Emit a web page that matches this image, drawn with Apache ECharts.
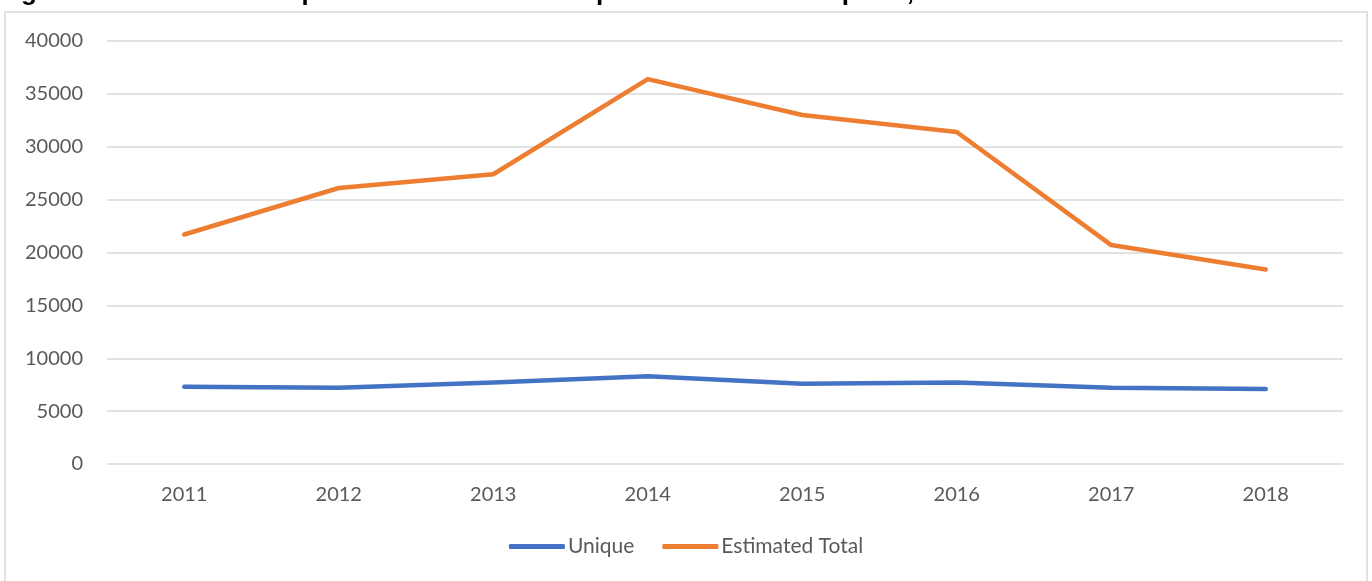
<!doctype html>
<html>
  <head>
    <meta charset="utf-8">
    <title>Occupational Disease Reports</title>
    <script src="https://cdn.jsdelivr.net/npm/echarts@6/dist/echarts.min.js"></script>
    <style>
      html, body { margin:0; padding:0; background:#fff; }
      #main { width:1372px; height:581px; }
    </style>
  </head>
  <body>
    <div id="main"></div>
  </body>
  <script>
   var years = ['2011','2012','2013','2014','2015','2016','2017','2018'];
   var unique = [7300, 7200, 7700, 8300, 7600, 7700, 7200, 7100];
   var estimatedTotal = [21700, 26100, 27400, 36400, 33000, 31400, 20700, 18400];

   var chart = echarts.init(document.getElementById('main'));
   var font = 'Lato, "Open Sans", sans-serif';

   var option = {
     animation:false,
     backgroundColor:'#fff',
     graphic:[
       {
         type:'rect',
         shape:{x:5, y:12, width:1362, height:580},
         style:{fill:'#fff', stroke:'#d9d9d9', lineWidth:1.5},
         z:-10
       },
       {
         type:'text',
         x:-2, y:-20,
         style:{
           text:'Figure B-6: Trend in Unique and Estimated Occupational Disease Reports, 2011-2018',
           font:'bold 26px "Liberation Sans", Arial, sans-serif',
           fill:'#000'
         },
         z:10
       }
     ],
     legend:{
       data:['Unique','Estimated Total'],
       bottom:19,
       left:'center',
       icon:'roundRect',
       itemWidth:56,
       itemHeight:5,
       itemGap:28,
       textStyle:{color:'#595959', fontSize:21, fontFamily:font, padding:[0,0,0,-2]}
     },
     grid:{left:107, right:29, top:41, bottom:117},
     xAxis:{
       type:'category',
       data:years,
       boundaryGap:true,
       axisLine:{show:false},
       axisTick:{show:false},
       axisLabel:{color:'#595959', fontSize:20, fontFamily:font, margin:21}
     },
     yAxis:{
       type:'value',
       min:0,
       max:40000,
       interval:5000,
       axisLine:{show:false},
       axisTick:{show:false},
       axisLabel:{color:'#595959', fontSize:20, fontFamily:font, margin:24,
         formatter:function(v){ return String(v); }},
       splitLine:{lineStyle:{color:'#d9d9d9', width:1.5}}
     },
     series:[
       {
         name:'Unique',
         type:'line',
         data:unique,
         showSymbol:false,
         symbol:'none',
         lineStyle:{color:'#4472C4', width:4.5, cap:'round', join:'round'},
         itemStyle:{color:'#4472C4'}
       },
       {
         name:'Estimated Total',
         type:'line',
         data:estimatedTotal,
         showSymbol:false,
         symbol:'none',
         lineStyle:{color:'#ED7D31', width:4.5, cap:'round', join:'round'},
         itemStyle:{color:'#ED7D31'}
       }
     ]
   };
   chart.setOption(option);
  </script>
</html>
